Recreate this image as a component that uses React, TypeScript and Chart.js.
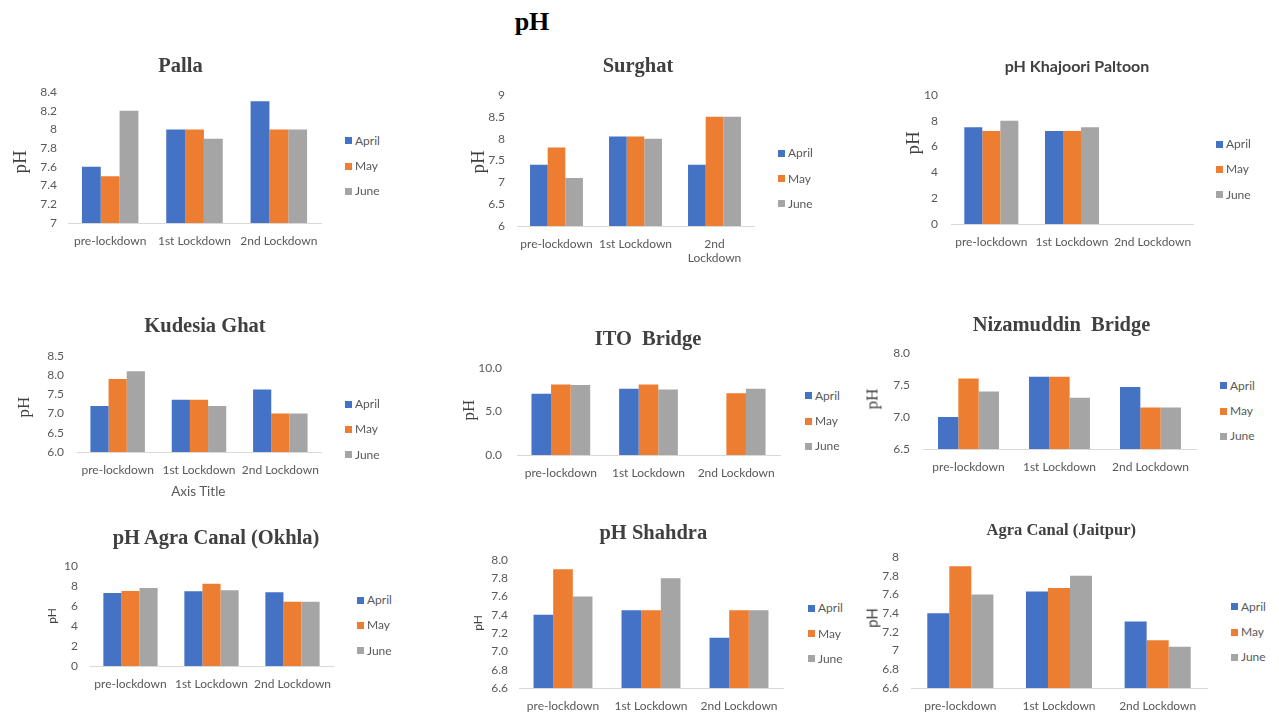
import React, { useEffect, useRef } from "react";
import { Chart, registerables } from "chart.js";

Chart.register(...registerables);

// Series and categories shared by every site
const MONTHS = ["April", "May", "June"];
const MONTH_COLORS = ["#4472C4", "#ED7D31", "#A5A5A5"];
const PERIODS = ["pre-lockdown", "1st Lockdown", "2nd Lockdown"];
const PERIODS_WRAPPED = ["pre-lockdown", "1st Lockdown", ["2nd", "Lockdown"]];

// pH readings: one row per month (April, May, June), one column per period
const pallaPH = [[7.6, 8.0, 8.3], [7.5, 8.0, 8.0], [8.2, 7.9, 8.0]];
const surghatPH = [[7.4, 8.05, 7.4], [7.8, 8.05, 8.5], [7.1, 8.0, 8.5]];
const khajooriPH = [[7.5, 7.2, null], [7.2, 7.2, null], [8.0, 7.5, null]];
const kudesiaPH = [[7.2, 7.36, 7.63], [7.9, 7.36, 7.0], [8.1, 7.2, 7.0]];
const itoPH = [[7.05, 7.62, null], [8.1, 8.1, 7.1], [8.04, 7.54, 7.62]];
const nizamuddinPH = [[7.0, 7.63, 7.47], [7.6, 7.63, 7.15], [7.4, 7.3, 7.15]];
const okhlaPH = [[7.3, 7.47, 7.37], [7.5, 8.23, 6.43], [7.8, 7.57, 6.43]];
const shahdraPH = [[7.4, 7.45, 7.15], [7.9, 7.45, 7.45], [7.6, 7.8, 7.45]];
const jaitpurPH = [[7.4, 7.63, 7.31], [7.9, 7.67, 7.11], [7.6, 7.8, 7.04]];

// Value-axis ranges per site: [min, max, step, decimals (-1 = trim zeros)]
const pallaAxis = [7, 8.4, 0.2, -1];
const surghatAxis = [6, 9, 0.5, -1];
const khajooriAxis = [0, 10, 2, -1];
const kudesiaAxis = [6, 8.5, 0.5, 1];
const itoAxis = [0, 10, 5, 1];
const nizamuddinAxis = [6.5, 8, 0.5, 1];
const okhlaAxis = [0, 10, 2, -1];
const shahdraAxis = [6.6, 8, 0.2, 1];
const jaitpurAxis = [6.6, 8, 0.2, -1];

const SANS = "Lato, 'Open Sans', sans-serif";
const SERIF = "'Liberation Serif', 'Times New Roman', serif";
const TEXT = "#595959";

const YW = 50; // value-axis box width
const PT = 26; // space above plot area inside canvas
const PR = 24; // space right of plot area inside canvas
const XH = 46; // category-axis box height

type Panel = {
  title: string;
  titleFont: string;
  titlePos: [number, number];
  values: (number | null)[][];
  labels: (string | string[])[];
  axis: number[];
  plot: [number, number, number, number]; // left, top, right, bottom
  tickGap: number;
  yTitle: { pos: [number, number]; font: string };
  legend: [number, number];
  xTitle?: { text: string; pos: [number, number] };
};

const panels: Panel[] = [
  {
    title: "Palla", titleFont: `bold 20.5px ${SERIF}`, titlePos: [180.5, 65],
    values: pallaPH, labels: PERIODS, axis: pallaAxis,
    plot: [68, 92, 321, 223], tickGap: 11,
    yTitle: { pos: [19, 162], font: `19px ${SERIF}` }, legend: [345, 140.7],
  },
  {
    title: "Surghat", titleFont: `bold 20.5px ${SERIF}`, titlePos: [638, 65],
    values: surghatPH, labels: PERIODS_WRAPPED, axis: surghatAxis,
    plot: [517, 95, 754, 226], tickGap: 12,
    yTitle: { pos: [476.7, 162], font: `19px ${SERIF}` }, legend: [778, 153.3],
  },
  {
    title: "pH Khajoori Paltoon", titleFont: `bold 16px ${SANS}`, titlePos: [1077, 66],
    values: khajooriPH, labels: PERIODS, axis: khajooriAxis,
    plot: [951, 95, 1193, 224], tickGap: 13,
    yTitle: { pos: [911.7, 143.3], font: `19px ${SERIF}` }, legend: [1216, 144],
  },
  {
    title: "Kudesia Ghat", titleFont: `bold 20.5px ${SERIF}`, titlePos: [205, 325],
    values: kudesiaPH, labels: PERIODS, axis: kudesiaAxis,
    plot: [77, 356, 321, 452], tickGap: 13,
    yTitle: { pos: [23.3, 406.7], font: `17px ${SERIF}` }, legend: [345, 404],
    xTitle: { text: "Axis Title", pos: [198.3, 492.3] },
  },
  {
    title: "ITO  Bridge", titleFont: `bold 20.5px ${SERIF}`, titlePos: [648, 337.7],
    values: itoPH, labels: PERIODS, axis: itoAxis,
    plot: [517, 368, 780, 455], tickGap: 15,
    yTitle: { pos: [468.3, 410], font: `17px ${SERIF}` }, legend: [805, 395.7],
  },
  {
    title: "Nizamuddin  Bridge", titleFont: `bold 20.5px ${SERIF}`, titlePos: [1061.5, 324],
    values: nizamuddinPH, labels: PERIODS, axis: nizamuddinAxis,
    plot: [923, 353, 1196, 449], tickGap: 13,
    yTitle: { pos: [872.3, 399.3], font: `17px ${SERIF}` }, legend: [1220, 385.7],
  },
  {
    title: "pH Agra Canal (Okhla)", titleFont: `bold 20.5px ${SERIF}`, titlePos: [216, 537.3],
    values: okhlaPH, labels: PERIODS, axis: okhlaAxis,
    plot: [90, 566, 333, 666], tickGap: 12,
    yTitle: { pos: [51.7, 616], font: `12px ${SANS}` }, legend: [357, 600],
  },
  {
    title: "pH Shahdra", titleFont: `bold 20.5px ${SERIF}`, titlePos: [653.3, 531.7],
    values: shahdraPH, labels: PERIODS, axis: shahdraAxis,
    plot: [519, 560, 783, 688], tickGap: 11,
    yTitle: { pos: [478.3, 623.3], font: `12px ${SANS}` }, legend: [808, 608.3],
  },
  {
    title: "Agra Canal (Jaitpur)", titleFont: `bold 16.5px ${SERIF}`, titlePos: [1061.3, 530],
    values: jaitpurPH, labels: PERIODS, axis: jaitpurAxis,
    plot: [911, 557, 1207, 688], tickGap: 12,
    yTitle: { pos: [872.3, 618.3], font: `15px ${SANS}` }, legend: [1231, 606.7],
  },
];

const centered = (x: number, y: number, font: string, color: string, rotate = false): React.CSSProperties => ({
  position: "absolute",
  left: x,
  top: y,
  transform: `translate(-50%, -50%)${rotate ? " rotate(-90deg)" : ""}`,
  font,
  color,
  whiteSpace: "pre",
  lineHeight: 1,
});

function BarPanel({ p }: { p: Panel }) {
  const ref = useRef<HTMLCanvasElement | null>(null);
  const [L, T, R, B] = p.plot;
  const width = R - L + YW + PR;
  const height = B - T + PT + XH;

  useEffect(() => {
    if (!ref.current) return;
    const [min, max, step, decimals] = p.axis;
    const font = { family: SANS, size: 12 };
    const chart = new Chart(ref.current, {
      type: "bar",
      data: {
        labels: p.labels,
        datasets: MONTHS.map((m, i) => ({
          label: m,
          data: p.values[i],
          backgroundColor: MONTH_COLORS[i],
          borderWidth: 0,
          categoryPercentage: 0.67,
          barPercentage: 1,
        })),
      },
      options: {
        responsive: false,
        maintainAspectRatio: false,
        animation: false,
        layout: { padding: { top: PT, right: PR, bottom: 0, left: 0 } },
        plugins: {
          legend: { display: false },
          title: { display: false },
          tooltip: { enabled: false },
        },
        scales: {
          x: {
            grid: { display: false, drawTicks: false },
            border: { display: true, color: "#D9D9D9", width: 1 },
            ticks: { autoSkip: false, maxRotation: 0, minRotation: 0, padding: 11, color: TEXT, font },
            afterFit: (s: any) => { s.height = XH; },
          },
          y: {
            min,
            max,
            grid: { display: false, drawTicks: false },
            border: { display: false },
            ticks: {
              stepSize: step,
              padding: p.tickGap,
              color: TEXT,
              font,
              callback: (v: any) => {
                const n = Number(v);
                return decimals >= 0 ? n.toFixed(decimals) : String(parseFloat(n.toFixed(2)));
              },
            },
            afterFit: (s: any) => { s.width = YW; },
          },
        },
      },
    } as any);
    let alive = true;
    if ((document as any).fonts?.load) {
      (document as any).fonts.load(`12px Lato`).then(() => { if (alive) chart.update(); });
    }
    return () => { alive = false; chart.destroy(); };
  }, [p]);

  return (
    <>
      <canvas
        ref={ref}
        width={width}
        height={height}
        style={{ position: "absolute", left: L - YW, top: T - PT, width, height }}
      />
      <div style={centered(p.titlePos[0], p.titlePos[1], p.titleFont, "#404040")}>{p.title}</div>
      <div style={centered(p.yTitle.pos[0], p.yTitle.pos[1], p.yTitle.font, "#404040", true)}>pH</div>
      {p.xTitle && (
        <div style={centered(p.xTitle.pos[0], p.xTitle.pos[1], `13.5px ${SANS}`, TEXT)}>{p.xTitle.text}</div>
      )}
      {MONTHS.map((m, i) => (
        <div
          key={m}
          style={{
            position: "absolute",
            left: p.legend[0],
            top: p.legend[1] + i * 25.3,
            transform: "translateY(-50%)",
            display: "flex",
            alignItems: "center",
            font: `12px ${SANS}`,
            color: TEXT,
            lineHeight: 1,
            whiteSpace: "pre",
          }}
        >
          <span style={{ display: "inline-block", width: 7, height: 7, background: MONTH_COLORS[i], marginRight: 3 }} />
          {m}
        </div>
      ))}
    </>
  );
}

export default function App() {
  return (
    <div style={{ position: "absolute", left: 0, top: 0, width: 1279, height: 716, background: "#fff", overflow: "hidden" }}>
      <div style={centered(532, 22, `bold 26px ${SERIF}`, "#000")}>pH</div>
      {panels.map((p) => (
        <BarPanel key={p.title} p={p} />
      ))}
    </div>
  );
}
